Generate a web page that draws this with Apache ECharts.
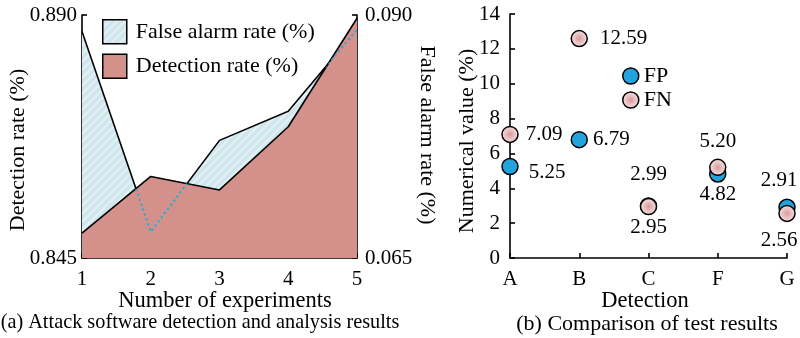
<!DOCTYPE html>
<html>
<head>
<meta charset="utf-8">
<script src="https://cdn.jsdelivr.net/npm/echarts@6/dist/echarts.min.js"></script>
<style>
  html, body { margin: 0; padding: 0; background: #fff; }
  #chart { width: 800px; height: 338px; }
</style>
</head>
<body>
<div id="chart"></div>
<script>
// ---- Panel (a): detection / false alarm rates per experiment ----
const experiments = ['1', '2', '3', '4', '5'];
const detectionRate = [0.8496, 0.8601, 0.8576, 0.8693, 0.8894];
const falseAlarmRate = [0.0883, 0.0677, 0.0771, 0.0801, 0.0885];
const detectionTicks = [0.845, 0.890];
const falseAlarmTicks = [0.065, 0.090];

// ---- Panel (b): FP / FN per detector ----
const detectors = ['A', 'B', 'C', 'F', 'G'];
const fpValues = [5.25, 6.79, 2.99, 4.82, 2.91];
const fnValues = [7.09, 12.59, 2.95, 5.20, 2.56];
const valueTicks = [0, 14];

const FONT = 'Liberation Serif';
const BLACK = '#000';

// light blue fill with faint diagonal stripes
function makeHatch() {
  const c = document.createElement('canvas');
  c.width = 8; c.height = 8;
  const ctx = c.getContext('2d');
  ctx.fillStyle = '#cfe6ec';
  ctx.fillRect(0, 0, 8, 8);
  ctx.strokeStyle = '#e4f1f4';
  ctx.lineWidth = 2;
  ctx.beginPath();
  ctx.moveTo(-2, 10); ctx.lineTo(10, -2);
  ctx.moveTo(-2, 2); ctx.lineTo(2, -2);
  ctx.moveTo(6, 10); ctx.lineTo(10, 6);
  ctx.stroke();
  return c;
}
const hatch = { image: makeHatch(), repeat: 'repeat' };
const RED = '#d4908b';
const FP_BLUE = '#22a3dc';
const FN_FILL = {
  type: 'radial', x: 0.5, y: 0.5, r: 0.5,
  colorStops: [
    { offset: 0, color: '#d79a9c' },
    { offset: 0.55, color: '#eac4c5' },
    { offset: 1, color: '#f5e0df' }
  ]
};

// map a detection-rate value onto the false-alarm axis range
function toFalseAlarmScale(v) {
  const t = (v - detectionTicks[0]) / (detectionTicks[1] - detectionTicks[0]);
  return falseAlarmTicks[0] + t * (falseAlarmTicks[1] - falseAlarmTicks[0]);
}

const axisLine = { show: true, lineStyle: { color: BLACK, width: 1.6 } };
const axisTick = { show: true, inside: true, length: 5, lineStyle: { color: BLACK, width: 1.6 } };
const tickText = { color: BLACK, fontFamily: FONT, fontSize: 21 };
const legendText = { color: BLACK, fontFamily: FONT, fontSize: 22 };

const fpLabelPos = [
  { position: 'right', distance: 10, offset: [0, 6] },
  { position: 'right', distance: 5 },
  { position: 'top', distance: 12 },
  { position: 'bottom', distance: 1 },
  { position: 'top', distance: 8, offset: [-8, 0] }
];
const fnLabelPos = [
  { position: 'right', distance: 7 },
  { position: 'right', distance: 12 },
  { position: 'bottom', distance: 2 },
  { position: 'top', distance: 7 },
  { position: 'bottom', distance: 8, offset: [-8, 0] }
];

function title(text, x, y, size, rotation) {
  return {
    type: 'text', x: x, y: y, rotation: rotation || 0,
    style: { text: text, fill: BLACK, font: size + 'px "Liberation Serif"', align: 'center', verticalAlign: 'middle' }
  };
}

const chart = echarts.init(document.getElementById('chart'), null, { renderer: 'canvas' });

const option = {
  animation: false,
  backgroundColor: '#fff',
  textStyle: { fontFamily: FONT },
  grid: [
    { left: 82, right: 443, top: 15, bottom: 80 },
    { left: 510, right: 13, top: 14, bottom: 80 }
  ],
  xAxis: [
    {
      type: 'category', gridIndex: 0, data: experiments, boundaryGap: false,
      axisLine, axisTick, splitLine: { show: false },
      axisLabel: Object.assign({ margin: 11 }, tickText)
    },
    {
      type: 'category', gridIndex: 1, data: detectors, boundaryGap: false,
      axisLine, axisTick, splitLine: { show: false },
      axisLabel: Object.assign({ margin: 11 }, tickText)
    }
  ],
  yAxis: [
    {
      type: 'value', gridIndex: 0, position: 'left',
      min: detectionTicks[0], max: detectionTicks[1],
      interval: detectionTicks[1] - detectionTicks[0],
      axisLine, axisTick, splitLine: { show: false },
      axisLabel: Object.assign({ margin: 5, formatter: v => v.toFixed(3) }, tickText)
    },
    {
      type: 'value', gridIndex: 0, position: 'right',
      min: falseAlarmTicks[0], max: falseAlarmTicks[1],
      interval: falseAlarmTicks[1] - falseAlarmTicks[0],
      axisLine, axisTick, splitLine: { show: false },
      axisLabel: Object.assign({ margin: 8, formatter: v => v.toFixed(3) }, tickText)
    },
    {
      type: 'value', gridIndex: 1, position: 'left',
      min: valueTicks[0], max: valueTicks[1], interval: 2,
      axisLine, axisTick, splitLine: { show: false },
      axisLabel: Object.assign({ margin: 10 }, tickText)
    }
  ],
  legend: [
    {
      left: 102, top: 19, orient: 'vertical', padding: 0,
      itemWidth: 24, itemHeight: 24, itemGap: 9,
      icon: 'rect', selectedMode: false,
      textStyle: Object.assign({ padding: [0, 0, 0, 4] }, legendText),
      data: [
        { name: 'False alarm rate (%)', itemStyle: { color: hatch, borderColor: BLACK, borderWidth: 1.5 } },
        { name: 'Detection rate (%)', itemStyle: { color: RED, borderColor: BLACK, borderWidth: 1.5 } }
      ]
    },
    {
      left: 622, top: 65, orient: 'vertical', padding: 0,
      itemWidth: 16, itemHeight: 16, itemGap: 2,
      icon: 'circle', selectedMode: false,
      textStyle: Object.assign({ padding: [0, 0, 0, 0] }, legendText),
      data: [
        { name: 'FP', itemStyle: { color: FP_BLUE, borderColor: BLACK, borderWidth: 1.5 } },
        { name: 'FN', itemStyle: { color: FN_FILL, borderColor: BLACK, borderWidth: 1.5 } }
      ]
    }
  ],
  series: [
    {
      name: 'False alarm rate (%)', type: 'line', xAxisIndex: 0, yAxisIndex: 1,
      data: falseAlarmRate, symbol: 'none', z: 2,
      itemStyle: { color: '#cfe6ec' },
      lineStyle: { color: BLACK, width: 1.6 },
      areaStyle: { color: hatch, opacity: 1 }
    },
    {
      name: 'Detection rate (%)', type: 'line', xAxisIndex: 0, yAxisIndex: 0,
      data: detectionRate, symbol: 'none', z: 3,
      itemStyle: { color: RED },
      lineStyle: { color: BLACK, width: 1.6 },
      areaStyle: { color: RED, opacity: 1 }
    },
    {
      // false alarm curve seen through the detection-rate area (dotted)
      name: 'hidden-fa', type: 'custom', xAxisIndex: 0, yAxisIndex: 1,
      z: 4, silent: true,
      data: [[0, falseAlarmTicks[0]]],
      renderItem: function (params, api) {
        const faPts = falseAlarmRate.map((v, i) => api.coord([i, v]));
        const drPts = detectionRate.map((v, i) => api.coord([i, toFalseAlarmScale(v)]));
        const last = experiments.length - 1;
        const clipPoly = drPts.concat([
          api.coord([last, falseAlarmTicks[0]]),
          api.coord([0, falseAlarmTicks[0]])
        ]);
        return {
          type: 'polyline',
          shape: { points: faPts },
          style: { stroke: '#2aa9cc', lineWidth: 2, lineDash: [2.2, 3], fill: null },
          clipPath: { type: 'polygon', shape: { points: clipPoly } }
        };
      }
    },
    {
      name: 'FP', type: 'scatter', xAxisIndex: 1, yAxisIndex: 2,
      symbol: 'circle', symbolSize: 16, z: 3,
      itemStyle: { color: FP_BLUE, borderColor: BLACK, borderWidth: 1.5, opacity: 1 },
      data: fpValues.map((v, i) => ({
        value: v,
        label: Object.assign({ show: true, formatter: v.toFixed(2) }, tickText, fpLabelPos[i])
      }))
    },
    {
      name: 'FN', type: 'scatter', xAxisIndex: 1, yAxisIndex: 2,
      symbol: 'circle', symbolSize: 16, z: 4,
      itemStyle: { color: FN_FILL, borderColor: BLACK, borderWidth: 1.5, opacity: 1 },
      data: fnValues.map((v, i) => ({
        value: v,
        label: Object.assign({ show: true, formatter: v.toFixed(2) }, tickText, fnLabelPos[i])
      }))
    }
  ],
  graphic: [
    title('Detection rate (%)', 18, 150, 22, Math.PI / 2),
    title('False alarm rate (%)', 427, 135, 22, -Math.PI / 2),
    title('Numerical value (%)', 467, 141, 22, Math.PI / 2),
    title('Number of experiments', 225, 301, 22.5),
    title('Detection', 645, 301, 22.5),
    title('(a) Attack software detection and analysis results', 200, 323, 20.3),
    title('(b) Comparison of test results', 647, 324, 22)
  ]
};

chart.setOption(option);
</script>
</body>
</html>
